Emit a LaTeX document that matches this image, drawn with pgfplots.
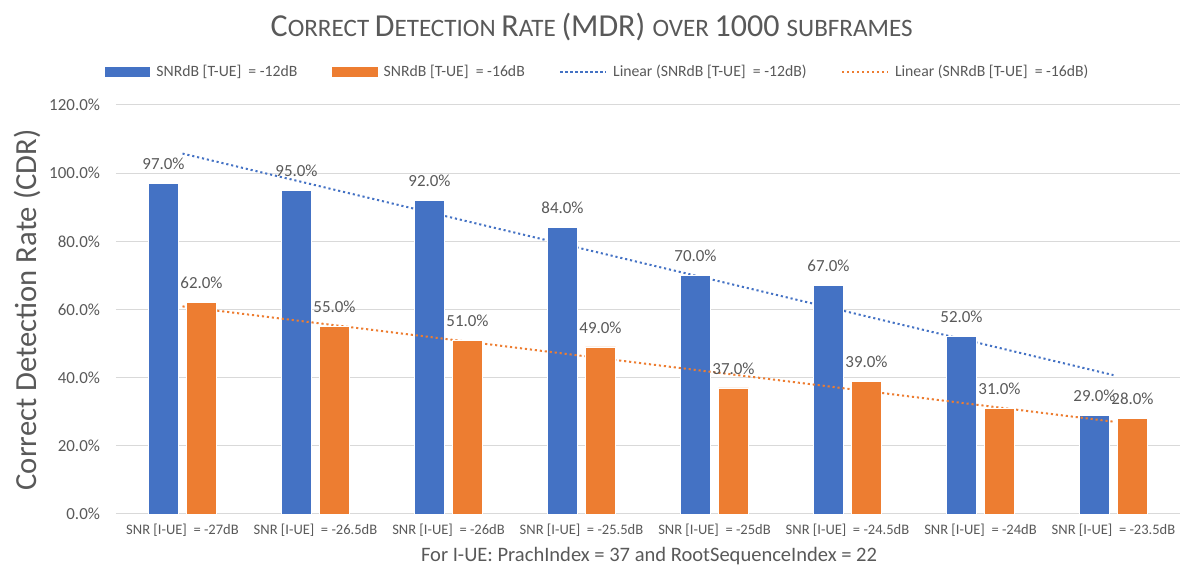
\documentclass[border=0pt]{standalone}
\usepackage{pgfplots}
\pgfplotsset{compat=1.18}
\usepackage{fontspec}
\setmainfont{Carlito}
\definecolor{cblue}{HTML}{4472C4}
\definecolor{corange}{HTML}{ED7D31}
\definecolor{tgray}{HTML}{595959}
\definecolor{ggray}{HTML}{D9D9D9}
\newcommand\tbig{\fontsize{24}{27}\selectfont}
\newcommand\tsmall{\fontsize{18.8}{21}\selectfont}
\begin{document}
\begin{tikzpicture}
\path[use as bounding box] (-87pt,-42pt) rectangle (801.75pt,385.5pt);
\begin{axis}[
  at={(0,0)}, anchor=south west,
  scale only axis, width=798pt, height=306.75pt,
  xmin=0.5, xmax=8.5, ymin=0, ymax=120,
  xtick={1,...,8},
  xticklabels={{SNR [I-UE]\ \ = -27dB},{SNR [I-UE]\ \ = -26.5dB},{SNR [I-UE]\ \ = -26dB},{SNR [I-UE]\ \ = -25.5dB},{SNR [I-UE]\ \ = -25dB},{SNR [I-UE]\ \ = -24.5dB},{SNR [I-UE]\ \ = -24dB},{SNR [I-UE]\ \ = -23.5dB}},
  ytick={0,20,...,120},
  yticklabel={\pgfmathprintnumber[assume math mode=true,fixed,fixed zerofill,precision=1]{\tick}\%},
  ymajorgrids, grid style={ggray, line width=0.75pt},
  axis x line*=bottom, axis y line*=left,
  x axis line style={ggray, line width=0.75pt, -},
  y axis line style={draw=none},
  major tick length=0pt,
  tick label style={text=tgray},
  xticklabel style={font=\fontsize{10.9}{12}\selectfont, anchor=center, yshift=-12.5pt},
  yticklabel style={font=\fontsize{12.7}{14}\selectfont, xshift=-8.5pt},
  legend style={at={(axis description cs:0.453,1)}, anchor=center, yshift=24.75pt,
    draw=none, fill=none, font=\fontsize{11.8}{13}\selectfont, text=tgray,
    /tikz/every even column/.append style={column sep=24pt}},
  legend columns=4,
  clip=false,
  every node near coord/.append style={font=\fontsize{12.7}{14}\selectfont, text=tgray, inner sep=0pt, yshift=10pt},
]
\addlegendimage{legend image code/.code={\path[draw=none,fill=none] (0pt,-3.2pt) rectangle (36.5pt,3.2pt);\fill[cblue] (0pt,-3.2pt) rectangle (33.5pt,3.2pt);}}
\addlegendentry{SNRdB [T-UE]\ \ = -12dB}
\addlegendimage{legend image code/.code={\path[draw=none,fill=none] (0pt,-3.2pt) rectangle (36.5pt,3.2pt);\fill[corange] (0pt,-3.2pt) rectangle (33.5pt,3.2pt);}}
\addlegendentry{SNRdB [T-UE]\ \ = -16dB}
\addlegendimage{legend image code/.code={\path[draw=none,fill=none] (0pt,-1pt) rectangle (37.5pt,1pt);\draw[cblue, line width=1.5pt, dash pattern=on 1.6pt off 2.15pt] (0pt,0pt) -- (34pt,0pt);}}
\addlegendentry{Linear (SNRdB [T-UE]\ \ = -12dB)}
\addlegendimage{legend image code/.code={\path[draw=none,fill=none] (0pt,-1pt) rectangle (37.5pt,1pt);\draw[corange, line width=1.5pt, dash pattern=on 1.6pt off 2.15pt] (0pt,0pt) -- (34pt,0pt);}}
\addlegendentry{Linear (SNRdB [T-UE]\ \ = -16dB)}

% blue trend line (linear fit)
\addplot[forget plot, cblue, line width=1.5pt, dash pattern=on 1.6pt off 2.15pt] coordinates {(1,105.75) (8,40.75)};
% blue bars
\addplot[forget plot, ybar, bar width=22.5pt, bar shift=-14.25pt, fill=cblue, draw=white, line width=0.5pt,
  nodes near coords={\pgfmathprintnumber[assume math mode=true,fixed,fixed zerofill,precision=1]{\pgfplotspointmeta}\%},
  every node near coord/.append style={xshift=-14.25pt}]
  coordinates {(1,97) (2,95) (3,92) (4,84) (5,70) (6,67) (7,52) (8,29)};
% orange trend line (linear fit)
\addplot[forget plot, corange, line width=1.5pt, dash pattern=on 1.6pt off 2.15pt] coordinates {(1,60.917) (8,27.083)};
% orange bars
\addplot[forget plot, ybar, bar width=22.5pt, bar shift=14.25pt, fill=corange, draw=white, line width=0.5pt,
  nodes near coords={\pgfmathprintnumber[assume math mode=true,fixed,fixed zerofill,precision=1]{\pgfplotspointmeta}\%},
  every node near coord/.append style={xshift=14.25pt}]
  coordinates {(1,62) (2,55) (3,51) (4,49) (5,37) (6,39) (7,31) (8,28)};

\node[text=tgray, anchor=center] at (axis description cs:0.447,1) [yshift=58.5pt]
  {\tbig C\tsmall ORRECT \tbig D\tsmall ETECTION \tbig R\tsmall ATE \tbig (MDR) \tsmall OVER \tbig 1000 \tsmall SUBFRAMES};
\node[text=tgray, anchor=center, font=\fontsize{15.4}{17}\selectfont] at (axis description cs:0.501,-0.1027)
  {For I-UE: PrachIndex = 37 and RootSequenceIndex = 22};
\node[text=tgray, anchor=center, rotate=90, font=\fontsize{23}{26}\selectfont] at (axis description cs:-0.0836,0.499)
  {Correct Detection Rate (CDR)};
\end{axis}
\end{tikzpicture}
\end{document}
